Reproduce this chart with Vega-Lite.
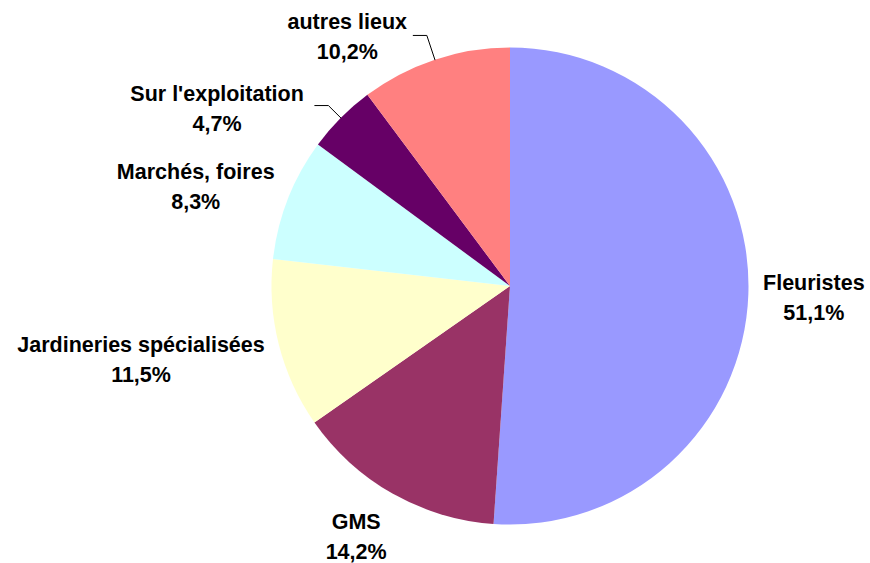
{
  "$schema": "https://vega.github.io/schema/vega-lite/v6.json",
  "width": 720,
  "height": 552,
  "autosize": "none",
  "padding": {"left": 150, "top": 10, "right": 0, "bottom": 1},
  "background": "white",
  "config": {
    "view": {"stroke": null},
    "text": {"font": "Liberation Sans", "fontWeight": "bold", "fontSize": 21.5, "lineHeight": 30, "color": "black"}
  },
  "data": {
    "values": [
      {"cat": "Fleuristes", "value": 51.1, "pct": "51,1%", "rank": 1},
      {"cat": "GMS", "value": 14.2, "pct": "14,2%", "rank": 2},
      {"cat": "Jardineries spécialisées", "value": 11.5, "pct": "11,5%", "rank": 3},
      {"cat": "Marchés, foires", "value": 8.3, "pct": "8,3%", "rank": 4},
      {"cat": "Sur l'exploitation", "value": 4.7, "pct": "4,7%", "rank": 5},
      {"cat": "autres lieux", "value": 10.2, "pct": "10,2%", "rank": 6}
    ]
  },
  "transform": [
    {"stack": "value", "groupby": [], "sort": [{"field": "rank", "order": "ascending"}], "as": ["v0", "v1"]},
    {"calculate": "(datum.v0 + datum.v1) / 2", "as": "mid"},
    {"calculate": "datum.mid / 100 * 2 * PI", "as": "a"},
    {"calculate": "datum.cat + '|' + datum.pct", "as": "label"}
  ],
  "layer": [
    {
      "mark": {"type": "arc", "radius": 238.5},
      "encoding": {
        "theta": {"field": "v0", "type": "quantitative", "scale": {"domain": [0, 100]}, "stack": null},
        "theta2": {"field": "v1"},
        "color": {
          "field": "cat",
          "type": "nominal",
          "scale": {
            "domain": ["Fleuristes", "GMS", "Jardineries spécialisées", "Marchés, foires", "Sur l'exploitation", "autres lieux"],
            "range": ["#9999FF", "#993366", "#FFFFCC", "#CCFFFF", "#660066", "#FF8080"]
          },
          "legend": null
        }
      }
    },
    {
      "transform": [{"filter": "datum.rank === 1"}],
      "mark": {"type": "text", "radius": 304, "dy": -13, "lineBreak": "|", "align": "center", "baseline": "middle"},
      "encoding": {
        "theta": {"field": "mid", "type": "quantitative", "scale": {"domain": [0, 100]}, "stack": null},
        "text": {"field": "label"}
      }
    },
    {
      "transform": [{"filter": "datum.rank === 2"}],
      "mark": {"type": "text", "radius": 294, "dx": -9, "dy": -19, "lineBreak": "|", "align": "center", "baseline": "middle"},
      "encoding": {
        "theta": {"field": "mid", "type": "quantitative", "scale": {"domain": [0, 100]}, "stack": null},
        "text": {"field": "label"}
      }
    },
    {
      "transform": [{"filter": "datum.rank === 3"}],
      "mark": {"type": "text", "radius": 376, "dx": -4.5, "dy": -32, "lineBreak": "|", "align": "center", "baseline": "middle"},
      "encoding": {
        "theta": {"field": "mid", "type": "quantitative", "scale": {"domain": [0, 100]}, "stack": null},
        "text": {"field": "label"}
      }
    },
    {
      "transform": [{"filter": "datum.rank === 4"}],
      "mark": {"type": "text", "radius": 329, "dx": -8, "dy": 7, "lineBreak": "|", "align": "center", "baseline": "middle"},
      "encoding": {
        "theta": {"field": "mid", "type": "quantitative", "scale": {"domain": [0, 100]}, "stack": null},
        "text": {"field": "label"}
      }
    },
    {
      "transform": [{"filter": "datum.rank === 5"}],
      "mark": {"type": "text", "radius": 332.6, "dx": -57, "dy": 43, "lineBreak": "|", "align": "center", "baseline": "middle"},
      "encoding": {
        "theta": {"field": "mid", "type": "quantitative", "scale": {"domain": [0, 100]}, "stack": null},
        "text": {"field": "label"}
      }
    },
    {
      "transform": [{"filter": "datum.rank === 6"}],
      "mark": {"type": "text", "radius": 288, "dx": -72, "dy": 10, "lineBreak": "|", "align": "center", "baseline": "middle"},
      "encoding": {
        "theta": {"field": "mid", "type": "quantitative", "scale": {"domain": [0, 100]}, "stack": null},
        "text": {"field": "label"}
      }
    },
    {
      "transform": [
        {"filter": "datum.rank >= 5"},
        {"calculate": "datum.rank === 5 ? 256 : 264", "as": "L"},
        {"calculate": "238 * sin(datum.a)", "as": "px1"},
        {"calculate": "238 * cos(datum.a)", "as": "py1"},
        {"calculate": "datum.L * sin(datum.a)", "as": "px2"},
        {"calculate": "datum.L * cos(datum.a)", "as": "py2"},
        {"calculate": "datum.px2 - 14", "as": "px3"}
      ],
      "layer": [
        {
          "mark": {"type": "rule", "color": "black", "strokeWidth": 1},
          "encoding": {
            "x": {"field": "px1", "type": "quantitative", "scale": {"domain": [-360, 360], "nice": false, "zero": false}, "axis": null},
            "y": {"field": "py1", "type": "quantitative", "scale": {"domain": [-276, 276], "nice": false, "zero": false}, "axis": null},
            "x2": {"field": "px2"},
            "y2": {"field": "py2"}
          }
        },
        {
          "mark": {"type": "rule", "color": "black", "strokeWidth": 1},
          "encoding": {
            "x": {"field": "px2", "type": "quantitative", "scale": {"domain": [-360, 360], "nice": false, "zero": false}, "axis": null},
            "y": {"field": "py2", "type": "quantitative", "scale": {"domain": [-276, 276], "nice": false, "zero": false}, "axis": null},
            "x2": {"field": "px3"},
            "y2": {"field": "py2"}
          }
        }
      ]
    }
  ]
}
